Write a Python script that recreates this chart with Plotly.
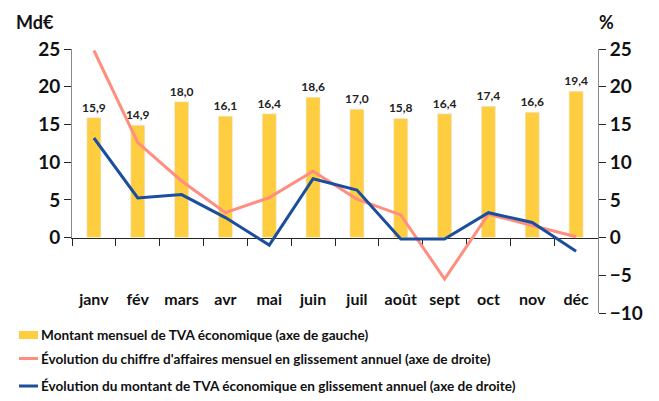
import plotly.graph_objects as go

months = ["janv", "fév", "mars", "avr", "mai", "juin", "juil", "août", "sept", "oct", "nov", "déc"]
tva_montant = [15.9, 14.9, 18.0, 16.1, 16.4, 18.6, 17.0, 15.8, 16.4, 17.4, 16.6, 19.4]
ca_glissement = [24.8, 12.6, 7.5, 3.3, 5.3, 8.8, 5.1, 3.0, -5.5, 3.1, 1.6, 0.1]
tva_glissement = [13.2, 5.25, 5.7, 2.65, -1.0, 7.8, 6.3, -0.2, -0.2, 3.3, 2.0, -1.8]

left_ticks = [0, 5, 10, 15, 20, 25]
right_ticks = [-10, -5, 0, 5, 10, 15, 20, 25]

names = [
    "Montant mensuel de TVA économique (axe de gauche)",
    "Évolution du chiffre d'affaires mensuel en glissement annuel (axe de droite)",
    "Évolution du montant de TVA économique en glissement annuel (axe de droite)",
]

FONT = "Lato, sans-serif"
BAR = "#FFCD40"
PINK = "#FF8E7F"
BLUE = "#1B4E9E"
AXIS = "#8A8A8A"
TICK = "#262626"

W, H = 651, 393
ML, MR, MT, MB = 64, 61, 41, 88
PW, PH = W - ML - MR, H - MT - MB


def px(x):
    return (x - ML) / PW


def py(y):
    return (H - MB - y) / PH


fig = go.Figure()
fig.add_trace(go.Bar(
    x=months, y=tva_montant, name=names[0],
    marker=dict(color=BAR), text=[f"{v:.1f}".replace(".", ",") for v in tva_montant],
    textposition="outside", cliponaxis=False, constraintext="none",
    textfont=dict(family=FONT, size=12, color="#222222", weight="bold"),
    xaxis="x", yaxis="y",
))
fig.add_trace(go.Scatter(
    x=months, y=ca_glissement, mode="lines", name=names[1],
    line=dict(color=PINK, width=3), xaxis="x2", yaxis="y2", cliponaxis=False,
))
fig.add_trace(go.Scatter(
    x=months, y=tva_glissement, mode="lines", name=names[2],
    line=dict(color=BLUE, width=3), xaxis="x2", yaxis="y2", cliponaxis=False,
))

zero_frac = 10 / 35

# manual legend (pixel positions in figure coordinates)
leg_y = [327, 350.5, 378]
leg_font = dict(family=FONT, size=13.6, color="#111111", weight="bold")
shapes = [
    dict(type="rect", xref="paper", yref="paper", x0=px(11), x1=px(30),
         y0=py(leg_y[0] - 4), y1=py(leg_y[0] + 4), fillcolor=BAR, line=dict(width=0)),
    dict(type="line", xref="paper", yref="paper", x0=px(11), x1=px(30),
         y0=py(leg_y[1]), y1=py(leg_y[1]), line=dict(color=PINK, width=3)),
    dict(type="line", xref="paper", yref="paper", x0=px(11), x1=px(30),
         y0=py(leg_y[2]), y1=py(leg_y[2]), line=dict(color=BLUE, width=3)),
]
annotations = [
    dict(text=n, xref="paper", yref="paper", x=px(31), y=py(yy), xanchor="left",
         yanchor="middle", showarrow=False, font=leg_font)
    for n, yy in zip(names, leg_y)
]
annotations += [
    dict(text="Md€", xref="paper", yref="paper", x=-0.110, y=1.102, xanchor="left",
         yanchor="middle", showarrow=False,
         font=dict(family=FONT, size=18, color="#111111", weight="bold")),
    dict(text="%", xref="paper", yref="paper", x=0.998, y=1.102, xanchor="left",
         yanchor="middle", showarrow=False,
         font=dict(family=FONT, size=18, color="#111111", weight="bold")),
]

fig.update_layout(
    width=W, height=H,
    margin=dict(l=ML, r=MR, t=MT, b=MB, autoexpand=False),
    paper_bgcolor="white", plot_bgcolor="rgba(0,0,0,0)",
    font=dict(family=FONT, color="#111111"),
    bargap=0.68,
    showlegend=False,
    xaxis=dict(
        domain=[0, 1], anchor="y", type="category",
        categoryorder="array", categoryarray=months,
        showline=True, linecolor=TICK, linewidth=1,
        ticks="outside", tickson="boundaries", ticklen=7, tickcolor=TICK,
        tickfont=dict(family=FONT, size=16, color="#111111", weight="bold"),
        tickangle=0, ticklabelstandoff=47, showgrid=False, automargin=False,
    ),
    yaxis=dict(
        domain=[zero_frac, 1], anchor="x", range=[0, 25], tickvals=left_ticks,
        showline=True, linecolor=AXIS, linewidth=1,
        ticks="outside", ticklen=7, tickcolor=TICK,
        tickfont=dict(family=FONT, size=19, color="#111111", weight="bold"),
        showgrid=False, zeroline=False, automargin=False,
    ),
    xaxis2=dict(
        domain=[0, 1], anchor="y2", type="category",
        categoryorder="array", categoryarray=months, range=[-0.5, 11.5],
        showticklabels=False, showline=False, ticks="", showgrid=False, zeroline=False,
    ),
    yaxis2=dict(
        domain=[0, 1], anchor="x2", side="right", range=[-10, 25], tickvals=right_ticks,
        showline=True, linecolor=AXIS, linewidth=1,
        ticks="outside", ticklen=7, tickcolor=TICK,
        tickfont=dict(family=FONT, size=19, color="#111111", weight="bold"),
        showgrid=False, zeroline=False, automargin=False,
    ),
    shapes=shapes,
    annotations=annotations,
)

fig.write_html("out.html")
